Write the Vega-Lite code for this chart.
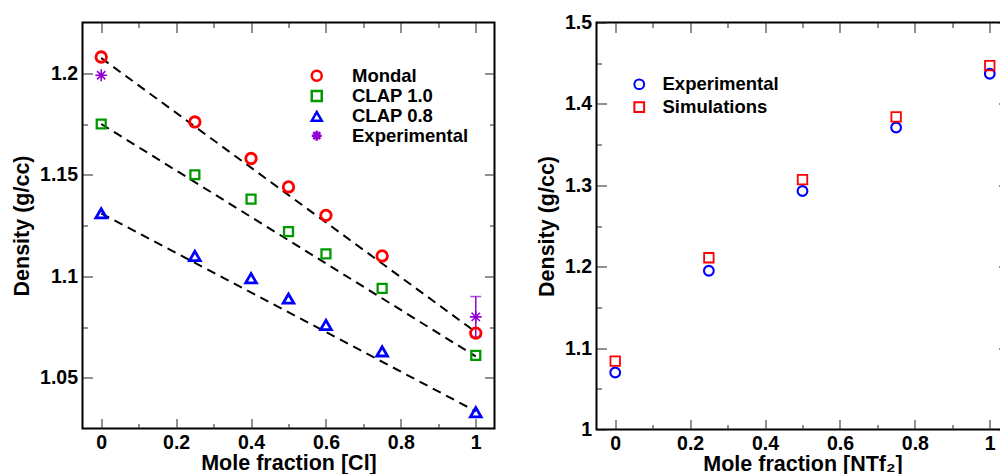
{
  "$schema": "https://vega.github.io/schema/vega-lite/v6.json",
  "background": "white",
  "padding": {"left": 9.5, "top": 11.5, "right": 0, "bottom": 0},
  "datasets": {
    "left_pts": [
      {"series": "Mondal", "x": 0, "y": 1.208},
      {"series": "Mondal", "x": 0.25, "y": 1.176},
      {"series": "Mondal", "x": 0.4, "y": 1.158},
      {"series": "Mondal", "x": 0.5, "y": 1.144},
      {"series": "Mondal", "x": 0.6, "y": 1.13},
      {"series": "Mondal", "x": 0.75, "y": 1.11},
      {"series": "Mondal", "x": 1, "y": 1.072},
      {"series": "CLAP 1.0", "x": 0, "y": 1.175},
      {"series": "CLAP 1.0", "x": 0.25, "y": 1.15},
      {"series": "CLAP 1.0", "x": 0.4, "y": 1.138},
      {"series": "CLAP 1.0", "x": 0.5, "y": 1.122},
      {"series": "CLAP 1.0", "x": 0.6, "y": 1.111},
      {"series": "CLAP 1.0", "x": 0.75, "y": 1.094},
      {"series": "CLAP 1.0", "x": 1, "y": 1.061},
      {"series": "CLAP 0.8", "x": 0, "y": 1.131},
      {"series": "CLAP 0.8", "x": 0.25, "y": 1.11},
      {"series": "CLAP 0.8", "x": 0.4, "y": 1.099},
      {"series": "CLAP 0.8", "x": 0.5, "y": 1.089},
      {"series": "CLAP 0.8", "x": 0.6, "y": 1.076},
      {"series": "CLAP 0.8", "x": 0.75, "y": 1.063},
      {"series": "CLAP 0.8", "x": 1, "y": 1.033},
      {"series": "Experimental", "x": 0, "y": 1.199},
      {"series": "Experimental", "x": 1, "y": 1.08}
    ],
    "left_fit": [
      {"series": "Mondal", "x": 0, "y": 1.2075},
      {"series": "Mondal", "x": 1, "y": 1.0725},
      {"series": "CLAP 1.0", "x": 0, "y": 1.175},
      {"series": "CLAP 1.0", "x": 1, "y": 1.0605},
      {"series": "CLAP 0.8", "x": 0, "y": 1.131},
      {"series": "CLAP 0.8", "x": 1, "y": 1.0335}
    ],
    "left_err": [
      {"x": 1, "lo": 1.07, "hi": 1.09}
    ],
    "right_pts": [
      {"series": "Experimental", "x": 0, "y": 1.07},
      {"series": "Experimental", "x": 0.25, "y": 1.195},
      {"series": "Experimental", "x": 0.5, "y": 1.293},
      {"series": "Experimental", "x": 0.75, "y": 1.371},
      {"series": "Experimental", "x": 1, "y": 1.437},
      {"series": "Simulations", "x": 0, "y": 1.084},
      {"series": "Simulations", "x": 0.25, "y": 1.211},
      {"series": "Simulations", "x": 0.5, "y": 1.307},
      {"series": "Simulations", "x": 0.75, "y": 1.384},
      {"series": "Simulations", "x": 1, "y": 1.447}
    ]
  },
  "hconcat": [
    {
      "width": 412,
      "height": 406,
      "layer": [
        {
          "data": {"name": "left_fit"},
          "mark": {"type": "line", "color": "black", "strokeDash": [9, 6], "strokeWidth": 2},
          "encoding": {
            "x": {"field": "x", "type": "quantitative",
              "scale": {"domain": [-0.05, 1.05], "nice": false, "zero": false},
              "axis": {"orient": "bottom", "values": [0, 0.2, 0.4, 0.6, 0.8, 1], "format": "~g",
                "tickSize": -10, "labelPadding": 15, "title": "Mole fraction [Cl]", "titlePadding": 0.5}},
            "y": {"field": "y", "type": "quantitative",
              "scale": {"domain": [1.025, 1.225], "nice": false, "zero": false},
              "axis": {"orient": "left", "values": [1.05, 1.1, 1.15, 1.2], "format": "~g",
                "tickSize": -10, "labelPadding": 15, "title": "Density (g/cc)", "titlePadding": 6.5}},
            "detail": {"field": "series"}
          }
        },
        {
          "data": {"name": "left_err"},
          "mark": {"type": "errorbar", "color": "#9400d3", "thickness": 1.5, "ticks": {"size": 11, "thickness": 1.5, "color": "#9400d3"}},
          "encoding": {
            "x": {"field": "x", "type": "quantitative", "scale": {"domain": [-0.05, 1.05], "nice": false, "zero": false}, "axis": null},
            "y": {"field": "lo", "type": "quantitative", "scale": {"domain": [1.025, 1.225], "nice": false, "zero": false}, "axis": null},
            "y2": {"field": "hi"}
          }
        },
        {
          "data": {"name": "left_pts"},
          "transform": [{"filter": "datum.series == 'Mondal'"}],
          "mark": {"type": "point", "filled": false, "opacity": 1, "size": 110, "strokeWidth": 2.8},
          "encoding": {
            "x": {"field": "x", "type": "quantitative",
              "scale": {"domain": [-0.05, 1.05], "nice": false, "zero": false},
              "axis": {"orient": "top", "values": [0, 0.2, 0.4, 0.6, 0.8, 1], "labels": false, "title": null, "tickSize": -10}},
            "y": {"field": "y", "type": "quantitative",
              "scale": {"domain": [1.025, 1.225], "nice": false, "zero": false},
              "axis": {"orient": "right", "values": [1.05, 1.1, 1.15, 1.2], "labels": false, "title": null, "tickSize": -10}},
            "color": {"field": "series", "type": "nominal",
              "scale": {"domain": ["Mondal", "CLAP 1.0", "CLAP 0.8", "Experimental"], "range": ["#ff0000", "#009900", "#0000ff", "#9400d3"]},
              "legend": {"orient": "none", "legendX": 225, "legendY": 44, "title": null, "padding": 0, "labelFontSize": 18.5, "labelFontWeight": "bold", "labelOffset": 26, "rowPadding": -0.7, "symbolSize": 100, "symbolStrokeWidth": 2.5}},
            "shape": {"field": "series", "type": "nominal",
              "scale": {"domain": ["Mondal", "CLAP 1.0", "CLAP 0.8", "Experimental"], "range": ["circle", "square", "triangle-up", "M-1,0L1,0M0,-1L0,1M-0.7,-0.7L0.7,0.7M-0.7,0.7L0.7,-0.7"]},
              "legend": {"orient": "none", "legendX": 225, "legendY": 44, "title": null, "padding": 0, "labelFontSize": 18.5, "labelFontWeight": "bold", "labelOffset": 26, "rowPadding": -0.7, "symbolSize": 100, "symbolStrokeWidth": 2.5}}
          }
        },
        {
          "data": {"name": "left_pts"},
          "transform": [{"filter": "datum.series == 'CLAP 1.0'"}],
          "mark": {"type": "point", "filled": false, "opacity": 1, "size": 80, "strokeWidth": 2.3},
          "encoding": {
            "x": {"field": "x", "type": "quantitative",
              "scale": {"domain": [-0.05, 1.05], "nice": false, "zero": false},
              "axis": {"orient": "bottom", "values": [0.1, 0.3, 0.5, 0.7, 0.9], "labels": false, "title": null, "tickSize": -5}},
            "y": {"field": "y", "type": "quantitative",
              "scale": {"domain": [1.025, 1.225], "nice": false, "zero": false},
              "axis": {"orient": "left", "values": [1.075, 1.125, 1.175], "labels": false, "title": null, "tickSize": -5}},
            "color": {"field": "series", "type": "nominal",
              "scale": {"domain": ["Mondal", "CLAP 1.0", "CLAP 0.8", "Experimental"], "range": ["#ff0000", "#009900", "#0000ff", "#9400d3"]},
              "legend": {"orient": "none", "legendX": 225, "legendY": 44, "title": null, "padding": 0, "labelFontSize": 18.5, "labelFontWeight": "bold", "labelOffset": 26, "rowPadding": -0.7, "symbolSize": 100, "symbolStrokeWidth": 2.5}},
            "shape": {"field": "series", "type": "nominal",
              "scale": {"domain": ["Mondal", "CLAP 1.0", "CLAP 0.8", "Experimental"], "range": ["circle", "square", "triangle-up", "M-1,0L1,0M0,-1L0,1M-0.7,-0.7L0.7,0.7M-0.7,0.7L0.7,-0.7"]},
              "legend": {"orient": "none", "legendX": 225, "legendY": 44, "title": null, "padding": 0, "labelFontSize": 18.5, "labelFontWeight": "bold", "labelOffset": 26, "rowPadding": -0.7, "symbolSize": 100, "symbolStrokeWidth": 2.5}}
          }
        },
        {
          "data": {"name": "left_pts"},
          "transform": [{"filter": "datum.series == 'CLAP 0.8'"}],
          "mark": {"type": "point", "filled": false, "opacity": 1, "size": 115, "strokeWidth": 2.8},
          "encoding": {
            "x": {"field": "x", "type": "quantitative",
              "scale": {"domain": [-0.05, 1.05], "nice": false, "zero": false},
              "axis": {"orient": "top", "values": [0.1, 0.3, 0.5, 0.7, 0.9], "labels": false, "title": null, "tickSize": -5}},
            "y": {"field": "y", "type": "quantitative",
              "scale": {"domain": [1.025, 1.225], "nice": false, "zero": false},
              "axis": {"orient": "right", "values": [1.075, 1.125, 1.175], "labels": false, "title": null, "tickSize": -5}},
            "color": {"field": "series", "type": "nominal",
              "scale": {"domain": ["Mondal", "CLAP 1.0", "CLAP 0.8", "Experimental"], "range": ["#ff0000", "#009900", "#0000ff", "#9400d3"]},
              "legend": {"orient": "none", "legendX": 225, "legendY": 44, "title": null, "padding": 0, "labelFontSize": 18.5, "labelFontWeight": "bold", "labelOffset": 26, "rowPadding": -0.7, "symbolSize": 100, "symbolStrokeWidth": 2.5}},
            "shape": {"field": "series", "type": "nominal",
              "scale": {"domain": ["Mondal", "CLAP 1.0", "CLAP 0.8", "Experimental"], "range": ["circle", "square", "triangle-up", "M-1,0L1,0M0,-1L0,1M-0.7,-0.7L0.7,0.7M-0.7,0.7L0.7,-0.7"]},
              "legend": {"orient": "none", "legendX": 225, "legendY": 44, "title": null, "padding": 0, "labelFontSize": 18.5, "labelFontWeight": "bold", "labelOffset": 26, "rowPadding": -0.7, "symbolSize": 100, "symbolStrokeWidth": 2.5}}
          }
        },
        {
          "data": {"name": "left_pts"},
          "transform": [{"filter": "datum.series == 'Experimental'"}],
          "mark": {"type": "point", "filled": false, "opacity": 1, "size": 140, "strokeWidth": 1.6},
          "encoding": {
            "x": {"field": "x", "type": "quantitative",
              "scale": {"domain": [-0.05, 1.05], "nice": false, "zero": false}, "axis": null},
            "y": {"field": "y", "type": "quantitative",
              "scale": {"domain": [1.025, 1.225], "nice": false, "zero": false}, "axis": null},
            "color": {"field": "series", "type": "nominal",
              "scale": {"domain": ["Mondal", "CLAP 1.0", "CLAP 0.8", "Experimental"], "range": ["#ff0000", "#009900", "#0000ff", "#9400d3"]},
              "legend": {"orient": "none", "legendX": 225, "legendY": 44, "title": null, "padding": 0, "labelFontSize": 18.5, "labelFontWeight": "bold", "labelOffset": 26, "rowPadding": -0.7, "symbolSize": 100, "symbolStrokeWidth": 2.5}},
            "shape": {"field": "series", "type": "nominal",
              "scale": {"domain": ["Mondal", "CLAP 1.0", "CLAP 0.8", "Experimental"], "range": ["circle", "square", "triangle-up", "M-1,0L1,0M0,-1L0,1M-0.7,-0.7L0.7,0.7M-0.7,0.7L0.7,-0.7"]},
              "legend": {"orient": "none", "legendX": 225, "legendY": 44, "title": null, "padding": 0, "labelFontSize": 18.5, "labelFontWeight": "bold", "labelOffset": 26, "rowPadding": -0.7, "symbolSize": 100, "symbolStrokeWidth": 2.5}}
          }
        }
      ],
      "resolve": {"axis": {"x": "independent", "y": "independent"}}
    },
    {
      "width": 412,
      "height": 407,
      "layer": [
        {
          "data": {"name": "right_pts"},
          "mark": {"type": "point", "opacity": 0},
          "encoding": {
            "x": {"field": "x", "type": "quantitative",
              "scale": {"domain": [-0.05, 1.05], "nice": false, "zero": false},
              "axis": {"orient": "bottom", "values": [0.1, 0.3, 0.5, 0.7, 0.9], "labels": false, "title": null, "tickSize": -5}},
            "y": {"field": "y", "type": "quantitative",
              "scale": {"domain": [1.0, 1.5], "nice": false, "zero": false},
              "axis": {"orient": "left", "values": [1.05, 1.15, 1.25, 1.35, 1.45], "labels": false, "title": null, "tickSize": -5}}
          }
        },
        {
          "data": {"name": "right_pts"},
          "mark": {"type": "point", "opacity": 0},
          "encoding": {
            "x": {"field": "x", "type": "quantitative",
              "scale": {"domain": [-0.05, 1.05], "nice": false, "zero": false},
              "axis": {"orient": "top", "values": [0.1, 0.3, 0.5, 0.7, 0.9], "labels": false, "title": null, "tickSize": -5}},
            "y": {"field": "y", "type": "quantitative",
              "scale": {"domain": [1.0, 1.5], "nice": false, "zero": false},
              "axis": {"orient": "right", "values": [1.05, 1.15, 1.25, 1.35, 1.45], "labels": false, "title": null, "tickSize": -5}}
          }
        },
        {
          "data": {"name": "right_pts"},
          "transform": [{"filter": "datum.series == 'Experimental'"}],
          "mark": {"type": "point", "filled": false, "opacity": 1, "size": 95, "strokeWidth": 2.1},
          "encoding": {
            "x": {"field": "x", "type": "quantitative",
              "scale": {"domain": [-0.05, 1.05], "nice": false, "zero": false},
              "axis": {"orient": "bottom", "values": [0, 0.2, 0.4, 0.6, 0.8, 1], "format": "~g",
                "tickSize": -10, "labelPadding": 15, "title": "Mole fraction [NTf₂]", "titlePadding": 0.5}},
            "y": {"field": "y", "type": "quantitative",
              "scale": {"domain": [1.0, 1.5], "nice": false, "zero": false},
              "axis": {"orient": "left", "values": [1, 1.1, 1.2, 1.3, 1.4, 1.5], "format": "~g",
                "tickSize": -10, "labelPadding": 15, "title": "Density (g/cc)", "titlePadding": 6}},
            "color": {"field": "series", "type": "nominal",
              "scale": {"domain": ["Experimental", "Simulations"], "range": ["#0000ff", "#ff0000"]},
              "legend": {"orient": "none", "legendX": 33.5, "legendY": 52.5, "title": null, "padding": 0, "labelFontSize": 18.5, "labelFontWeight": "bold", "labelOffset": 14, "rowPadding": 3.8, "symbolSize": 95, "symbolStrokeWidth": 2}},
            "shape": {"field": "series", "type": "nominal",
              "scale": {"domain": ["Experimental", "Simulations"], "range": ["circle", "square"]},
              "legend": {"orient": "none", "legendX": 33.5, "legendY": 52.5, "title": null, "padding": 0, "labelFontSize": 18.5, "labelFontWeight": "bold", "labelOffset": 14, "rowPadding": 3.8, "symbolSize": 95, "symbolStrokeWidth": 2}}
          }
        },
        {
          "data": {"name": "right_pts"},
          "transform": [{"filter": "datum.series == 'Simulations'"}],
          "mark": {"type": "point", "filled": false, "opacity": 1, "size": 90, "strokeWidth": 1.8},
          "encoding": {
            "x": {"field": "x", "type": "quantitative",
              "scale": {"domain": [-0.05, 1.05], "nice": false, "zero": false},
              "axis": {"orient": "top", "values": [0, 0.2, 0.4, 0.6, 0.8, 1], "labels": false, "title": null, "tickSize": -10}},
            "y": {"field": "y", "type": "quantitative",
              "scale": {"domain": [1.0, 1.5], "nice": false, "zero": false},
              "axis": {"orient": "right", "values": [1, 1.1, 1.2, 1.3, 1.4, 1.5], "labels": false, "title": null, "tickSize": -10}},
            "color": {"field": "series", "type": "nominal",
              "scale": {"domain": ["Experimental", "Simulations"], "range": ["#0000ff", "#ff0000"]},
              "legend": {"orient": "none", "legendX": 33.5, "legendY": 52.5, "title": null, "padding": 0, "labelFontSize": 18.5, "labelFontWeight": "bold", "labelOffset": 14, "rowPadding": 3.8, "symbolSize": 95, "symbolStrokeWidth": 2}},
            "shape": {"field": "series", "type": "nominal",
              "scale": {"domain": ["Experimental", "Simulations"], "range": ["circle", "square"]},
              "legend": {"orient": "none", "legendX": 33.5, "legendY": 52.5, "title": null, "padding": 0, "labelFontSize": 18.5, "labelFontWeight": "bold", "labelOffset": 14, "rowPadding": 3.8, "symbolSize": 95, "symbolStrokeWidth": 2}}
          }
        }
      ],
      "resolve": {"axis": {"x": "independent", "y": "independent"}}
    }
  ],
  "spacing": 102,
  "bounds": "flush",
  "resolve": {"scale": {"color": "independent", "shape": "independent"}, "legend": {"color": "independent", "shape": "independent"}},
  "config": {
    "font": "Liberation Sans",
    "view": {"stroke": "black", "strokeWidth": 2},
    "axis": {"grid": false, "domain": false, "labelFont": "Liberation Sans", "labelFontWeight": "bold", "labelFontSize": 19.5, "labelColor": "black",
      "titleFont": "Liberation Sans", "titleFontSize": 21.5, "titleFontWeight": "bold", "titleColor": "black", "tickColor": "#222", "tickWidth": 1},
    "legend": {"labelFont": "Liberation Sans", "labelColor": "black"}
  }
}
